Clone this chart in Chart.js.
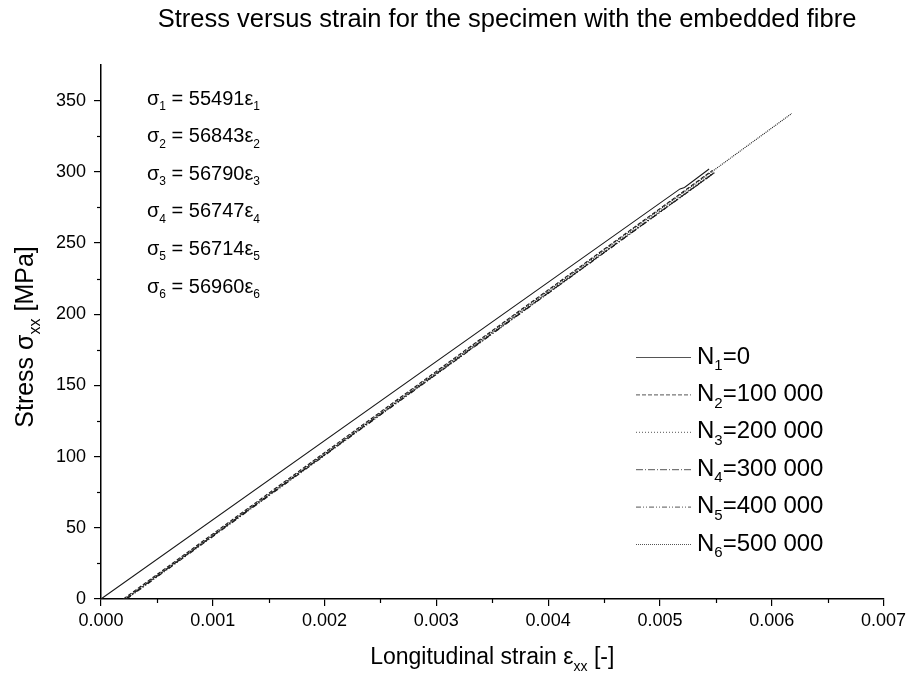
<!DOCTYPE html>
<html>
<head>
<meta charset="utf-8">
<script src="https://cdn.jsdelivr.net/npm/chart.js@4/dist/chart.umd.min.js"></script>
<style>
body { margin: 0; background: #fff; }
</style>
</head>
<body>
<canvas id="chart1" width="910" height="680"></canvas>
<script>
// strain / stress
strainN1 = [0, 0.00518, 0.00522, 0.00544];
stressN1 = [0, 288, 289, 302];
strainN2 = [0.00020, 0.00547];
stressN2 = [0, 301];
strainN3 = [0.00021, 0.00549];
stressN3 = [0, 300];
strainN4 = [0.00022, 0.00548];
stressN4 = [0, 299];
strainN5 = [0.00023, 0.00550];
stressN5 = [0, 300];
strainN6 = [0.00022, 0.00618];
stressN6 = [0, 341];

seriesNames = [['N', '1', '=0'], ['N', '2', '=100 000'], ['N', '3', '=200 000'],
    ['N', '4', '=300 000'], ['N', '5', '=400 000'], ['N', '6', '=500 000']];
moduli = ['55491', '56843', '56790', '56747', '56714', '56960'];

xTicks = [0, 0.001, 0.002, 0.003, 0.004, 0.005, 0.006, 0.007];
xMinor = [0.0005, 0.0015, 0.0025, 0.0035, 0.0045, 0.0055, 0.0065];
yTicks = [0, 50, 100, 150, 200, 250, 300, 350];
yMinor = [25, 75, 125, 175, 225, 275, 325];

dashes = [[], [4, 2], [1, 2], [7, 2, 1, 2], [5, 2, 1, 2, 1, 2], [1, 1]];
FONT = '"Liberation Sans", Arial, sans-serif';

function toPoints(xs, ys){
    pts = [];
    for(i = 0; i < xs.length; i++){
        pts.push({x: xs[i], y: ys[i]});
    }
    return pts;
}

allStrain = [strainN1, strainN2, strainN3, strainN4, strainN5, strainN6];
allStress = [stressN1, stressN2, stressN3, stressN4, stressN5, stressN6];

chartDataset = [];
for(k = 0; k < 6; k++){
    chartDataset.push({
        label: seriesNames[k].join(''),
        data: toPoints(allStrain[k], allStress[k]),
        borderColor: '#1a1a1a',
        borderWidth: 1.1,
        borderDash: dashes[k],
        pointRadius: 0,
        fill: false,
        tension: 0
    });
}

// text with a subscript part: parts = [[text, isSub], ...]
function drawRich(ctx, parts, x, y, size, align){
    subSize = Math.round(size * 0.62);
    total = 0;
    for(const p of parts){
        ctx.font = (p[1] ? subSize : size) + 'px ' + FONT;
        total += ctx.measureText(p[0]).width;
    }
    if(align == 'center') x -= total / 2;
    for(const p of parts){
        ctx.font = (p[1] ? subSize : size) + 'px ' + FONT;
        ctx.fillText(p[0], x, p[1] ? y + size * 0.38 : y);
        x += ctx.measureText(p[0]).width;
    }
}

const extras = {
    id: 'extras',
    afterDraw(chart){
        ctx = chart.ctx;
        xs = chart.scales.x;
        ys = chart.scales.y;
        ctx.save();
        ctx.strokeStyle = '#000';
        ctx.lineWidth = 1.2;
        ctx.setLineDash([]);
        for(const v of xMinor){
            px = Math.round(xs.getPixelForValue(v)) + 0.5;
            ctx.beginPath();
            ctx.moveTo(px, ys.bottom);
            ctx.lineTo(px, ys.bottom + 4);
            ctx.stroke();
        }
        for(const v of yMinor){
            py = Math.round(ys.getPixelForValue(v)) + 0.5;
            ctx.beginPath();
            ctx.moveTo(xs.left, py);
            ctx.lineTo(xs.left - 4, py);
            ctx.stroke();
        }

        ctx.fillStyle = '#000';
        ctx.textBaseline = 'middle';
        ctx.textAlign = 'left';

        // title
        ctx.font = '25.5px ' + FONT;
        ctx.textAlign = 'center';
        ctx.fillText('Stress versus strain for the specimen with the embedded fibre', 507, 20);
        ctx.textAlign = 'left';

        // x axis title
        drawRich(ctx, [['Longitudinal strain \u03b5', false], ['xx', true], [' [-]', false]],
            (xs.left + xs.right) / 2, 658, 23, 'center');

        // y axis title
        ctx.save();
        ctx.translate(26, 337);
        ctx.rotate(-Math.PI / 2);
        drawRich(ctx, [['Stress \u03c3', false], ['xx', true], [' [MPa]', false]], 0, 0, 25, 'center');
        ctx.restore();

        // equations
        for(k = 0; k < 6; k++){
            n = String(k + 1);
            drawRich(ctx, [['\u03c3', false], [n, true], [' = ' + moduli[k] + '\u03b5', false], [n, true]],
                147, 99 + k * 37.6, 20, 'left');
        }

        // legend
        for(k = 0; k < 6; k++){
            ly = 357 + k * 37.4;
            ctx.strokeStyle = '#555';
            ctx.lineWidth = 1;
            ctx.setLineDash(dashes[k]);
            ctx.beginPath();
            ctx.moveTo(636, ly + 0.5);
            ctx.lineTo(691, ly + 0.5);
            ctx.stroke();
            ctx.setLineDash([]);
            nm = seriesNames[k];
            drawRich(ctx, [[nm[0], false], [nm[1], true], [nm[2], false]], 697, ly, 24, 'left');
        }
        ctx.restore();
    }
};

chart1Ctx = document.querySelector('canvas#chart1').getContext('2d');
chart1 = new Chart(chart1Ctx, {
    type: 'line',
    data: { datasets: chartDataset },
    options: {
        responsive: false,
        animation: false,
        layout: { padding: { left: 0, top: 65, right: 23, bottom: 0 } },
        plugins: {
            legend: { display: false },
            title: { display: false },
            tooltip: { enabled: false }
        },
        scales: {
            x: {
                type: 'linear',
                min: 0,
                max: 0.007,
                afterBuildTicks: function(scale){ scale.ticks = xTicks.map(v => ({value: v})); },
                afterFit: function(scale){ scale.height = 81; },
                border: { color: '#000', width: 1.5 },
                grid: { drawOnChartArea: false, drawTicks: true, tickLength: 7, color: '#000', lineWidth: 1.2 },
                ticks: {
                    color: '#000',
                    padding: 4,
                    maxRotation: 0,
                    font: { family: FONT, size: 18 },
                    callback: function(v){ return Number(v).toFixed(3); }
                }
            },
            y: {
                type: 'linear',
                min: 0,
                max: 375,
                afterBuildTicks: function(scale){ scale.ticks = yTicks.map(v => ({value: v})); },
                afterFit: function(scale){ scale.width = 101; },
                border: { color: '#000', width: 1.5 },
                grid: { drawOnChartArea: false, drawTicks: true, tickLength: 7, color: '#000', lineWidth: 1.2 },
                ticks: {
                    color: '#000',
                    padding: 8,
                    font: { family: FONT, size: 18 }
                }
            }
        }
    },
    plugins: [extras]
});
</script>
</body>
</html>
